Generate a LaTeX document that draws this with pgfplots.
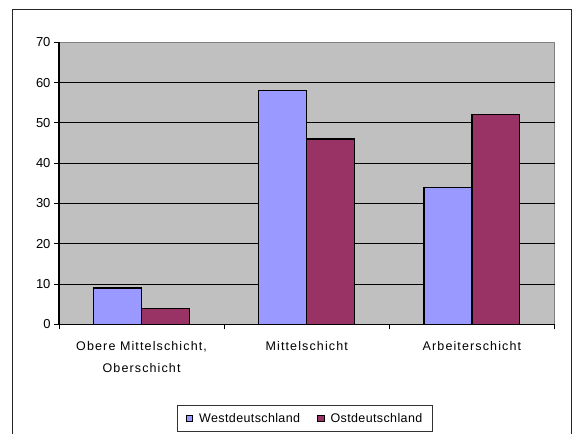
\documentclass[border=0pt]{standalone}
\usepackage{fontspec}
\setmainfont{Liberation Sans}
\newfontfamily\lsfont{Liberation Sans}[LetterSpace=3]
\newfontfamily\xlfont{Liberation Sans}[LetterSpace=9]
\usepackage{pgfplots}
\pgfplotsset{compat=1.18}
\definecolor{westc}{HTML}{9999FF}
\definecolor{ostc}{HTML}{993366}
\definecolor{bgc}{HTML}{C0C0C0}
\begin{document}
\begin{tikzpicture}
\useasboundingbox (0bp,0bp) rectangle (572bp,434bp);
\draw[line width=1bp, black!85] (12.7bp,-2bp) -- (12.7bp,424.7bp) -- (571bp,424.7bp) -- (571bp,-2bp);
\begin{axis}[
  at={(59bp,109.7bp)}, anchor=south west,
  scale only axis, width=495.5bp, height=282bp,
  ybar=0pt, bar width=0.29,
  xmin=-0.5, xmax=2.5, ymin=0, ymax=70,
  xtick={-0.5,0.5,1.5,2.5},
  x tick label as interval,
  xticklabels={{Obere Mittelschicht,\\Oberschicht},{Mittelschicht},{Arbeiterschicht}},
  xticklabel style={align=center, yshift=-9bp, font=\xlfont\fontsize{12.5bp}{21.5bp}\selectfont},
  ytick={0,10,...,60}, extra y ticks={70}, extra y tick style={grid=none},
  ymajorgrids, grid style={black, line width=0.8bp},
  tick align=outside, major tick length=5bp,
  tick style={black, line width=0.8bp},
  axis x line*=bottom, axis y line*=left,
  axis line style={black, line width=1.1bp, -},
  axis background/.style={fill=bgc, draw=gray, line width=1.5bp},
  yticklabel style={font=\fontsize{13bp}{14bp}\selectfont},
  /pgf/number format/assume math mode=true,
  legend columns=2,
  legend style={at={(axis description cs:0.4965,-0.334)}, anchor=center,
    draw=black!80, line width=0.8bp, font=\lsfont\fontsize{12.5bp}{14bp}\selectfont,
    inner xsep=8bp, inner ysep=6bp,
    /tikz/every odd column/.append style={column sep=4bp},
    /tikz/every even column/.append style={column sep=15bp}},
  legend image code/.code={\draw[#1, draw=black, line width=0.9bp] (0bp,-3.3bp) rectangle (6.6bp,3.3bp);},
]
\addplot[fill=westc, draw=black, line width=1.2bp] coordinates {(0,9) (1,58) (2,34)};
\addplot[fill=ostc, draw=black, line width=1.2bp] coordinates {(0,4) (1,46) (2,52)};
\legend{Westdeutschland,Ostdeutschland}
\end{axis}
\end{tikzpicture}
\end{document}
